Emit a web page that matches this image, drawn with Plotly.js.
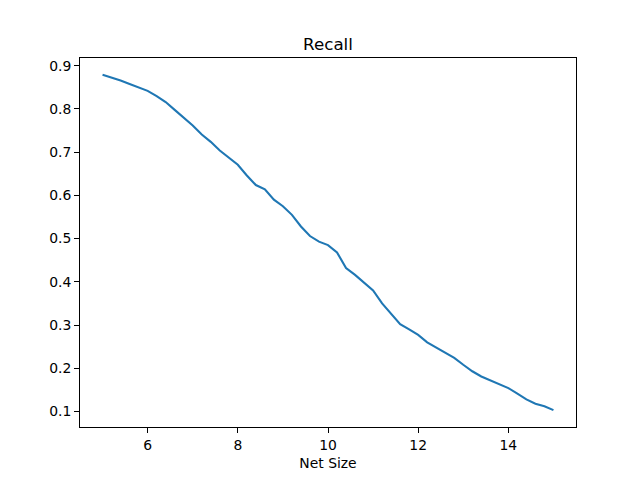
<!DOCTYPE html>
<html>
<head>
<meta charset="utf-8">
<script src="https://cdn.plot.ly/plotly-3.0.1.min.js"></script>
<style>html,body{margin:0;padding:0;background:#fff;}</style>
</head>
<body>
<div id="chart" style="width:640px;height:480px;"></div>
<script>
const netSize = [5.0,5.2,5.4,5.6,5.8,6.0,6.2,6.4,6.6,6.8,7.0,7.2,7.4,7.6,7.8,8.0,8.2,8.4,8.6,8.8,9.0,9.2,9.4,9.6,9.8,10.0,10.2,10.4,10.6,10.8,11.0,11.2,11.4,11.6,11.8,12.0,12.2,12.4,12.6,12.8,13.0,13.2,13.4,13.6,13.8,14.0,14.2,14.4,14.6,14.8,15.0];
const recall = [0.879,0.873,0.866,0.858,0.850,0.842,0.830,0.816,0.798,0.780,0.762,0.741,0.724,0.704,0.688,0.671,0.646,0.624,0.614,0.590,0.575,0.555,0.528,0.506,0.493,0.485,0.468,0.432,0.416,0.398,0.380,0.350,0.327,0.302,0.290,0.277,0.260,0.248,0.234,0.224,0.208,0.193,0.181,0.172,0.162,0.154,0.141,0.128,0.118,0.112,0.103];
const titleText = "Recall";
const xTitle = "Net Size";

const font = {family: "DejaVu Sans", size: 13.9, color: "#000"};
const axisCommon = {
  showgrid: false, zeroline: false, showline: true, linecolor: "#000", linewidth: 1,
  mirror: true, ticks: "outside", ticklen: 4.9, tickwidth: 1, tickcolor: "#000",
  tickfont: font
};
Plotly.newPlot("chart", [{
  x: netSize, y: recall, type: "scatter", mode: "lines",
  line: {color: "#1f77b4", width: 2.1}
}], {
  width: 640, height: 480,
  margin: {l: 80, r: 64, t: 58, b: 53, pad: 0},
  paper_bgcolor: "#fff", plot_bgcolor: "#fff",
  font: font,
  showlegend: false,
  title: {text: titleText, font: {family: "DejaVu Sans", size: 16.7, color: "#000"},
          x: 0.5, xref: "paper", xanchor: "center", y: 1 - 50/480, yref: "container", yanchor: "bottom"},
  xaxis: Object.assign({}, axisCommon, {range: [4.5, 15.5], tickvals: [6, 8, 10, 12, 14],
          title: {text: xTitle, font: font, standoff: 6}}),
  yaxis: Object.assign({}, axisCommon, {range: [0.064, 0.918], dtick: 0.1, tick0: 0.1, tickformat: ".1f"})
}, {displayModeBar: false, staticPlot: true});
</script>
</body>
</html>
